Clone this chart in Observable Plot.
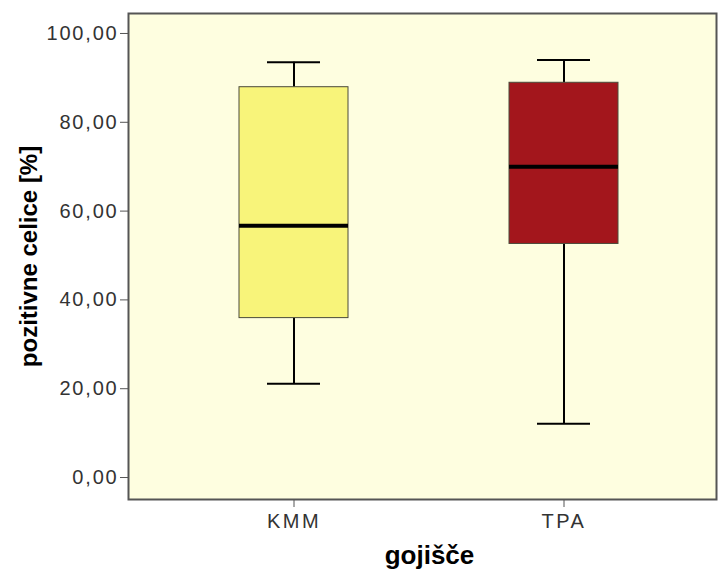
<!DOCTYPE html>
<html>
<head>
<meta charset="utf-8">
<script src="https://cdn.jsdelivr.net/npm/d3@7"></script>
<script src="https://cdn.jsdelivr.net/npm/@observablehq/plot@0.6"></script>
<style>
  html, body { margin: 0; padding: 0; background: #ffffff; }
  #chart svg { display: block; }
  #chart g[aria-label="y-axis tick label"] text { letter-spacing: 1.8px; }
  #chart g[aria-label="x-axis tick label"] text { letter-spacing: 2.5px; }
  #chart g[aria-label="xlabel"] text { letter-spacing: 1px; }
</style>
</head>
<body>
<div id="chart"></div>
<script>
// Data
const groups = ["KMM", "TPA"];
const whiskerLow = [21.1, 12.1];
const q1 = [35.9, 52.6];
const median = [56.7, 70.0];
const q3 = [87.9, 88.9];
const whiskerHigh = [93.5, 94.0];
const fills = ["#F8F47A", "#A3161C"];
const yTicks = [0, 20, 40, 60, 80, 100];
const yLabel = "pozitivne celice [%]";
const xLabel = "gojišče";

const rows = groups.map((g, i) => ({
  group: g, lo: whiskerLow[i], q1: q1[i], med: median[i], q3: q3[i], hi: whiskerHigh[i], fill: fills[i]
}));

const fmt = d => d.toFixed(2).replace(".", ",");

const chart = Plot.plot({
  width: 718,
  height: 571,
  marginLeft: 128,
  marginTop: 13,
  marginBottom: 72,
  marginRight: 2,
  style: { fontFamily: "'Liberation Sans', Arial, sans-serif", background: "#ffffff" },
  x: { type: "band", domain: groups, paddingInner: 0.597, paddingOuter: 0.385, align: 0.532 },
  y: { domain: [-4.95, 104.5] },
  marks: [
    Plot.frame({ fill: "#FEFEE0", stroke: null }),
    // whiskers
    Plot.ruleX(rows, { x: "group", y1: "lo", y2: "q1", stroke: "#000", strokeWidth: 2 }),
    Plot.ruleX(rows, { x: "group", y1: "q3", y2: "hi", stroke: "#000", strokeWidth: 2 }),
    Plot.tickY(rows, { x: "group", y: "lo", stroke: "#000", strokeWidth: 2, insetLeft: 28, insetRight: 28 }),
    Plot.tickY(rows, { x: "group", y: "hi", stroke: "#000", strokeWidth: 2, insetLeft: 28, insetRight: 28 }),
    // boxes
    Plot.barY(rows, { x: "group", y1: "q1", y2: "q3", fill: d => d.fill, stroke: "#4a4a3a", strokeWidth: 1 }),
    // medians
    Plot.tickY(rows, { x: "group", y: "med", stroke: "#000", strokeWidth: 4 }),
    Plot.axisY({ ticks: yTicks, tickFormat: fmt, tickSize: 8, tickPadding: 2, fontSize: 20, fill: "#333", stroke: "#555", label: null }),
    Plot.axisX({ tickSize: 8, tickPadding: 6, fontSize: 20, fill: "#333", stroke: "#555", label: null }),
    Plot.frame({ stroke: "#555", strokeWidth: 2 }),
    Plot.text([yLabel], { frameAnchor: "left", textAnchor: "middle", lineAnchor: "middle", dx: -99, rotate: -90, fontSize: 24, fontWeight: "bold", fill: "#000" }),
    Plot.text([xLabel], { frameAnchor: "bottom", textAnchor: "middle", lineAnchor: "middle", dx: 7, dy: 56, fontSize: 26, fontWeight: "bold", fill: "#000", ariaLabel: "xlabel" })
  ]
});
document.getElementById("chart").appendChild(chart);
</script>
</body>
</html>
